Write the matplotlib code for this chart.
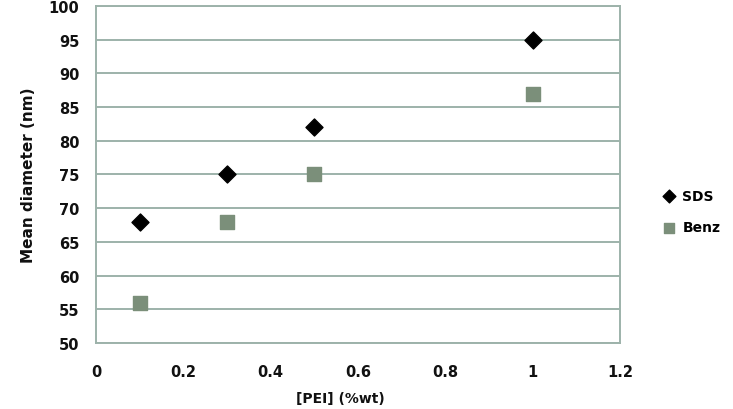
import matplotlib
matplotlib.use('Agg')
import matplotlib.pyplot as plt

# data
pei = [0.1, 0.3, 0.5, 1.0]
sds = [68, 75, 82, 95]
benz = [56, 68, 75, 87]
xticks = [0, 0.2, 0.4, 0.6, 0.8, 1, 1.2]
xtick_labels = ['0', '0.2', '0.4', '0.6', '0.8', '1', '1.2']

grid_col = '#9db2aa'

plt.rcParams['font.family'] = 'DejaVu Sans'
plt.rcParams['font.weight'] = 'bold'

fig = plt.figure(figsize=(7.33, 4.10), dpi=100)
ax = fig.add_axes([0.131, 0.161, 0.715, 0.822])

ax.scatter(pei, sds, marker='D', s=75, color='black', label='SDS', zorder=3)
ax.scatter(pei, benz, marker='s', s=100, color='#7b8f7a', label='Benz', zorder=3)

ax.set_xlim(0, 1.2)
ax.set_ylim(50, 100)
ax.set_xticks(xticks)
ax.set_xticklabels(xtick_labels)
ax.set_yticks(range(50, 101, 5))
ax.yaxis.grid(True, color=grid_col, linewidth=1.4)
ax.set_axisbelow(True)
for s in ax.spines.values():
    s.set_color(grid_col)
    s.set_linewidth(1.4)
ax.tick_params(length=0, labelsize=10.5, labelcolor='#111111')
ax.tick_params(axis='x', pad=15)
ax.tick_params(axis='y', pad=12)

ax.set_xlabel('[PEI] (%wt)', fontsize=10, fontweight='bold', color='#111111')
ax.xaxis.set_label_coords(0.466, -0.143)
ax.set_ylabel('Mean diameter (nm)', fontsize=11, fontweight='bold', color='#111111')
ax.yaxis.set_label_coords(-0.115, 0.5)

ax.legend(loc='center left', bbox_to_anchor=(1.042, 0.39), frameon=False,
          fontsize=10, handletextpad=0.0, labelspacing=1.25, markerscale=0.75)

fig.savefig('out.png', dpi=100)
